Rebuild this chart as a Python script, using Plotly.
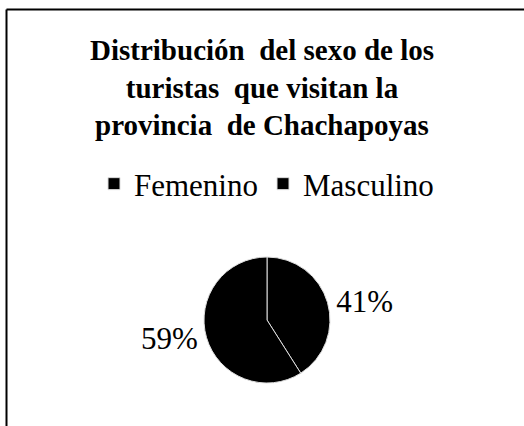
import plotly.graph_objects as go

labels = ["Femenino", "Masculino"]
values = [41, 59]
colors = ["#000000", "#000000"]
title_text = "Distribución  del sexo de los<br>turistas  que visitan la<br>provincia  de Chachapoyas"

W, H = 524, 426

fig = go.Figure()
fig.add_trace(go.Pie(
    labels=labels,
    values=values,
    sort=False,
    direction="clockwise",
    rotation=0,
    marker=dict(colors=colors, line=dict(color="#dddddd", width=1)),
    texttemplate="%{percent:.0%}",
    textposition="outside",
    textfont=dict(family="Liberation Serif", size=31, color="#000000"),
    hoverinfo="label+percent",
    domain=dict(x=[(267 - 63) / W, (267 + 63) / W],
                y=[1 - (320 + 64) / H, 1 - (320 - 64) / H]),
))

fig.update_layout(
    width=W, height=H,
    margin=dict(l=0, r=0, t=0, b=0),
    paper_bgcolor="white",
    plot_bgcolor="white",
    title=dict(text="<b>" + title_text + "</b>", x=0.5, xanchor="center",
               y=1 - 60 / H, yanchor="top",
               font=dict(family="Liberation Serif", size=29, color="#000000")),
    showlegend=True,
    legend=dict(orientation="h", x=94 / W, xanchor="left", y=1 - 184 / H, yanchor="middle",
                font=dict(family="Liberation Serif", size=31, color="#000000"),
                itemwidth=30),
    shapes=[
        dict(type="line", xref="paper", yref="paper", x0=6.5 / W, x1=1, y0=1 - 9.5 / H, y1=1 - 9.5 / H,
             line=dict(color="#000000", width=2)),
        dict(type="line", xref="paper", yref="paper", x0=6.5 / W, x1=6.5 / W, y0=0, y1=1 - 9.5 / H,
             line=dict(color="#000000", width=2)),
    ],
)

fig.write_html("out.html", config={"displayModeBar": False},
               post_script="document.body.style.margin='0';")
